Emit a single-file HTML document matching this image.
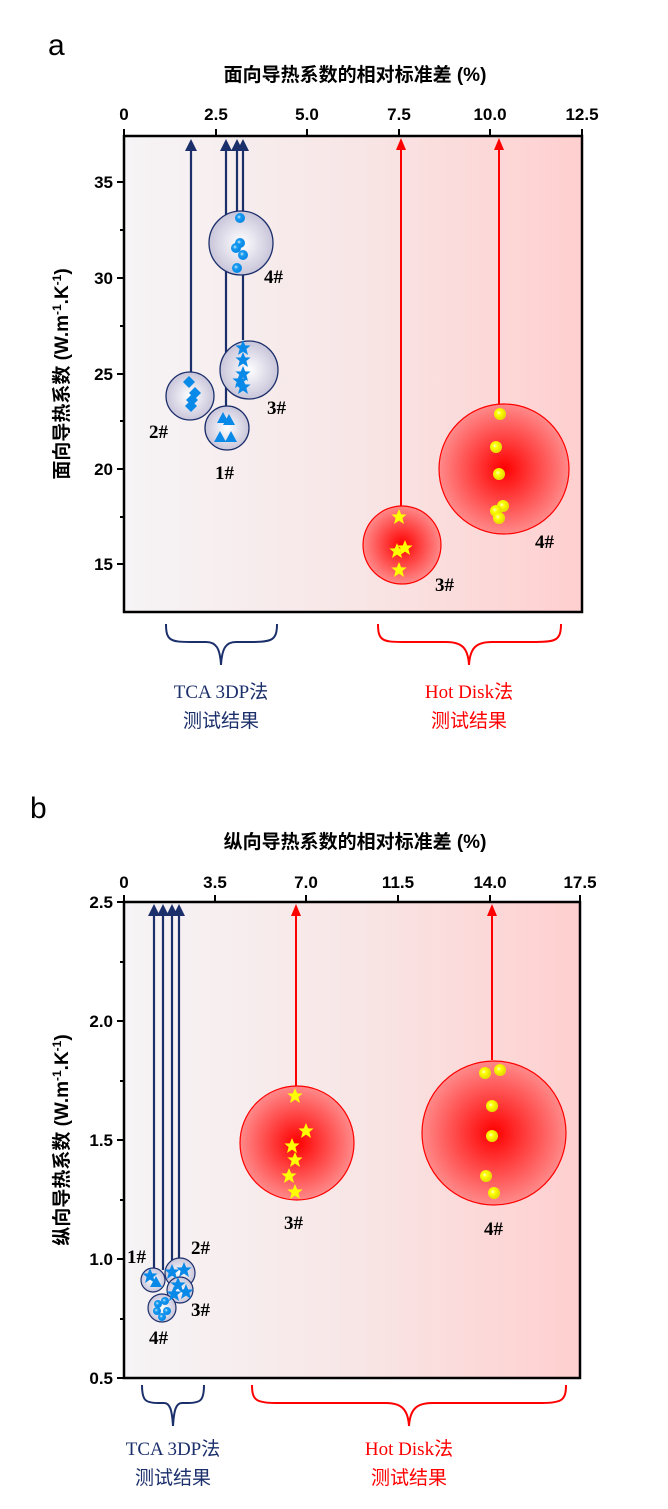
<!DOCTYPE html>
<html><head><meta charset="utf-8"><style>
html,body{margin:0;padding:0;background:#fff;}
svg{display:block;}
.t{font-family:"Liberation Serif","Noto Serif CJK SC",serif;font-weight:bold;fill:#000;}
.s{font-family:"Liberation Sans",sans-serif;font-weight:bold;fill:#000;}
.c{font-family:"Liberation Sans","Noto Sans CJK SC",sans-serif;}
</style></head><body>
<svg width="668" height="1509" viewBox="0 0 668 1509" xmlns="http://www.w3.org/2000/svg">
<defs>
<linearGradient id="bg" x1="0" x2="1" y1="0" y2="0"><stop offset="0" stop-color="#f6f4f6"/><stop offset="0.5" stop-color="#f8e6e6"/><stop offset="1" stop-color="#ffcfcf"/></linearGradient>
<radialGradient id="bl"><stop offset="0" stop-color="#ffffff"/><stop offset="1" stop-color="#c9c5da"/></radialGradient>
<radialGradient id="rd"><stop offset="0" stop-color="#ff0000"/><stop offset="1" stop-color="#ff8a8a"/></radialGradient>
<radialGradient id="yb" cx="0.4" cy="0.4"><stop offset="0" stop-color="#ffffcc"/><stop offset="0.4" stop-color="#ffff00"/><stop offset="1" stop-color="#e8e000"/></radialGradient>
<radialGradient id="bb" cx="0.4" cy="0.4"><stop offset="0" stop-color="#d0f0ff"/><stop offset="0.4" stop-color="#1a9cf0"/><stop offset="1" stop-color="#0a8ae8"/></radialGradient>
<polygon id="st" points="0,-8 2.2,-2.6 7.6,-2.5 3.4,1 5,7 0,3.6 -5,7 -3.4,1 -7.6,-2.5 -2.2,-2.6"/>
<polygon id="tr" points="0,-6 6,5 -6,5"/>
<polygon id="dm" points="0,-6 6,0 0,6 -6,0"/>
<polygon id="ah" points="0,0 6,12 -6,12"/>
<polygon id="ahr" points="0,0 5,12 -5,12"/>
</defs>

<!-- ===== Panel a ===== -->
<text x="48" y="55" class="c" font-size="30">a</text>
<text x="355" y="81" class="c" font-weight="bold" font-size="19" text-anchor="middle">面向导热系数的相对标准差 (%)</text>
<g class="s" font-size="17" text-anchor="middle">
<text x="124" y="120">0</text><text x="216" y="120">2.5</text><text x="307" y="120">5.0</text><text x="399" y="120">7.5</text><text x="490" y="120">10.0</text><text x="582" y="120">12.5</text>
</g>
<rect x="124" y="136" width="458" height="476" fill="url(#bg)"/>
<g stroke="#000" stroke-width="2">
<line x1="124" y1="136" x2="124" y2="129"/><line x1="216" y1="136" x2="216" y2="129"/><line x1="307" y1="136" x2="307" y2="129"/><line x1="399" y1="136" x2="399" y2="129"/><line x1="490" y1="136" x2="490" y2="129"/><line x1="582" y1="136" x2="582" y2="129"/>
<line x1="124" y1="182" x2="117" y2="182"/><line x1="124" y1="278" x2="117" y2="278"/><line x1="124" y1="374" x2="117" y2="374"/><line x1="124" y1="469" x2="117" y2="469"/><line x1="124" y1="564" x2="117" y2="564"/>
<line x1="124" y1="230" x2="120" y2="230"/><line x1="124" y1="326" x2="120" y2="326"/><line x1="124" y1="421" x2="120" y2="421"/><line x1="124" y1="517" x2="120" y2="517"/>
</g>
<g class="s" font-size="17" text-anchor="end">
<text x="113" y="188">35</text><text x="113" y="284">30</text><text x="113" y="380">25</text><text x="113" y="475">20</text><text x="113" y="570">15</text>
</g>
<text transform="translate(68,374) rotate(-90)" class="c" font-size="19" text-anchor="middle" font-weight="bold">面向导热系数 (W.m<tspan font-size="12" dy="-7">-1</tspan><tspan dy="7">.K</tspan><tspan font-size="12" dy="-7">-1</tspan><tspan dy="7">)</tspan></text>

<g stroke="#1b2f6b" stroke-width="2.2" fill="none">
<line x1="191" y1="372" x2="191" y2="150"/>
<line x1="226" y1="406" x2="226" y2="150"/>
<line x1="243" y1="340" x2="243" y2="150"/>
<line x1="237" y1="211" x2="237" y2="150"/>
</g>
<g fill="#1b2f6b">
<use href="#ah" x="191" y="139"/><use href="#ah" x="226" y="139"/><use href="#ah" x="237" y="139"/><use href="#ah" x="243" y="139"/>
</g>
<g stroke="#1b2f6b" stroke-width="1.3" fill="url(#bl)">
<circle cx="190" cy="396" r="24"/>
<circle cx="227" cy="428" r="22"/>
<circle cx="249" cy="370" r="29"/>
<circle cx="241" cy="243" r="32"/>
</g>
<g fill="#0a8ae8">
<use href="#dm" x="189" y="382"/><use href="#dm" x="195" y="393"/><use href="#dm" x="192" y="400"/><use href="#dm" x="191" y="406"/>
<use href="#tr" x="223" y="418"/><use href="#tr" x="229" y="420"/><use href="#tr" x="220" y="437"/><use href="#tr" x="231" y="437"/>
<use href="#st" x="243" y="348"/><use href="#st" x="243" y="360"/><use href="#st" x="243" y="374"/><use href="#st" x="240" y="381"/><use href="#st" x="243" y="387"/>
</g>
<g fill="url(#bb)">
<circle cx="240" cy="218" r="5"/><circle cx="240" cy="243" r="5"/><circle cx="236" cy="248" r="5"/><circle cx="243" cy="255" r="5"/><circle cx="237" cy="268" r="5"/>
</g>
<g class="t" font-size="19">
<text x="264" y="283">4#</text><text x="267" y="414">3#</text><text x="149" y="438">2#</text><text x="215" y="479">1#</text>
</g>

<g stroke="#ff0000" stroke-width="2">
<line x1="401" y1="506" x2="401" y2="148"/><line x1="499" y1="405" x2="499" y2="148"/>
</g>
<g fill="#ff0000"><use href="#ahr" x="401" y="138"/><use href="#ahr" x="499" y="138"/></g>
<circle cx="402" cy="545" r="39" fill="url(#rd)" stroke="#ff0000" stroke-width="1.2"/>
<circle cx="504" cy="469" r="65" fill="url(#rd)" stroke="#ff0000" stroke-width="1.2"/>
<g fill="#ffff00">
<use href="#st" x="399" y="517"/><use href="#st" x="397" y="551"/><use href="#st" x="405" y="548"/><use href="#st" x="399" y="570"/>
</g>
<g fill="url(#yb)">
<circle cx="500" cy="414" r="6"/><circle cx="496" cy="447" r="6"/><circle cx="499" cy="474" r="6"/><circle cx="503" cy="506" r="6"/><circle cx="496" cy="511" r="6"/><circle cx="499" cy="518" r="6"/>
</g>
<g class="t" font-size="19"><text x="535" y="548">4#</text><text x="435" y="591">3#</text></g>
<rect x="124" y="136" width="458" height="476" fill="none" stroke="#000" stroke-width="2.5"/>

<path d="M166,624 C166,640 170,642 190,642 L206,642 C216,642 220,648 221,665 C222,648 226,642 236,642 L252,642 C272,642 277,640 277,624" fill="none" stroke="#1b2f6b" stroke-width="2"/>
<path d="M378,624 C378,640 382,642 402,642 L446,642 C462,642 468,648 469,665 C470,648 476,642 492,642 L536,642 C556,642 561,640 561,624" fill="none" stroke="#ff0000" stroke-width="2"/>
<text x="221" y="698" font-size="19" fill="#1b2f6b" text-anchor="middle" style="font-family:'Liberation Serif','Noto Sans CJK SC',serif">TCA 3DP法</text>
<text x="221" y="727" class="c" font-size="19" fill="#1b2f6b" text-anchor="middle">测试结果</text>
<text x="469" y="698" font-size="19" fill="#ff0000" text-anchor="middle" style="font-family:'Liberation Serif','Noto Sans CJK SC',serif">Hot Disk法</text>
<text x="469" y="727" class="c" font-size="19" fill="#ff0000" text-anchor="middle">测试结果</text>

<!-- ===== Panel b ===== -->
<text x="30" y="818" class="c" font-size="30">b</text>
<text x="355" y="848" class="c" font-weight="bold" font-size="19" text-anchor="middle">纵向导热系数的相对标准差 (%)</text>
<g class="s" font-size="17" text-anchor="middle">
<text x="124" y="888">0</text><text x="215" y="888">3.5</text><text x="306" y="888">7.0</text><text x="398" y="888">11.5</text><text x="490" y="888">14.0</text><text x="580" y="888">17.5</text>
</g>
<rect x="124" y="902" width="456" height="476" fill="url(#bg)"/>
<g stroke="#000" stroke-width="2">
<line x1="124" y1="902" x2="124" y2="895"/><line x1="215" y1="902" x2="215" y2="895"/><line x1="306" y1="902" x2="306" y2="895"/><line x1="398" y1="902" x2="398" y2="895"/><line x1="490" y1="902" x2="490" y2="895"/><line x1="580" y1="902" x2="580" y2="895"/>
<line x1="124" y1="902" x2="117" y2="902"/><line x1="124" y1="1021" x2="117" y2="1021"/><line x1="124" y1="1140" x2="117" y2="1140"/><line x1="124" y1="1259" x2="117" y2="1259"/><line x1="124" y1="1378" x2="117" y2="1378"/>
<line x1="124" y1="962" x2="120" y2="962"/><line x1="124" y1="1081" x2="120" y2="1081"/><line x1="124" y1="1200" x2="120" y2="1200"/><line x1="124" y1="1319" x2="120" y2="1319"/>
</g>
<g class="s" font-size="17" text-anchor="end">
<text x="113" y="908">2.5</text><text x="113" y="1027">2.0</text><text x="113" y="1146">1.5</text><text x="113" y="1265">1.0</text><text x="113" y="1384">0.5</text>
</g>
<text transform="translate(68,1140) rotate(-90)" class="c" font-size="19" text-anchor="middle" font-weight="bold">纵向导热系数 (W.m<tspan font-size="12" dy="-7">-1</tspan><tspan dy="7">.K</tspan><tspan font-size="12" dy="-7">-1</tspan><tspan dy="7">)</tspan></text>

<g stroke="#1b2f6b" stroke-width="2.2" fill="none">
<line x1="154" y1="1270" x2="154" y2="915"/>
<line x1="163" y1="1270" x2="163" y2="915"/>
<line x1="172" y1="1265" x2="172" y2="915"/>
<line x1="179" y1="1262" x2="179" y2="915"/>
</g>
<g fill="#1b2f6b">
<use href="#ah" x="154" y="904"/><use href="#ah" x="163" y="904"/><use href="#ah" x="172" y="904"/><use href="#ah" x="179" y="904"/>
</g>
<g stroke="#1b2f6b" stroke-width="1.2" fill="url(#bl)">
<circle cx="180" cy="1273" r="15"/>
<circle cx="180" cy="1290" r="13"/>
<circle cx="153" cy="1280" r="12"/>
<circle cx="162" cy="1308" r="14"/>
</g>
<g fill="#0a8ae8">
<use href="#st" x="150" y="1276"/><use href="#tr" x="156" y="1282"/><use href="#st" x="172" y="1272"/><use href="#st" x="184" y="1270"/><use href="#st" x="178" y="1285"/><use href="#st" x="186" y="1292"/><use href="#st" x="174" y="1294"/>
</g>
<g fill="url(#bb)">
<circle cx="158" cy="1304" r="4"/><circle cx="165" cy="1301" r="4"/><circle cx="157" cy="1311" r="4"/><circle cx="167" cy="1311" r="4"/><circle cx="162" cy="1317" r="4"/>
</g>
<g class="t" font-size="19">
<text x="127" y="1263">1#</text><text x="191" y="1254">2#</text><text x="191" y="1316">3#</text><text x="149" y="1344">4#</text>
</g>

<g stroke="#ff0000" stroke-width="2">
<line x1="296" y1="1086" x2="296" y2="914"/><line x1="492" y1="1060" x2="492" y2="914"/>
</g>
<g fill="#ff0000"><use href="#ahr" x="296" y="904"/><use href="#ahr" x="492" y="904"/></g>
<circle cx="297" cy="1143" r="57" fill="url(#rd)" stroke="#ff0000" stroke-width="1.2"/>
<circle cx="494" cy="1133" r="72" fill="url(#rd)" stroke="#ff0000" stroke-width="1.2"/>
<g fill="#ffff00">
<use href="#st" x="295" y="1096"/><use href="#st" x="306" y="1131"/><use href="#st" x="292" y="1146"/><use href="#st" x="295" y="1160"/><use href="#st" x="289" y="1176"/><use href="#st" x="295" y="1192"/>
</g>
<g fill="url(#yb)">
<circle cx="485" cy="1073" r="6"/><circle cx="500" cy="1070" r="6"/><circle cx="492" cy="1106" r="6"/><circle cx="492" cy="1136" r="6"/><circle cx="486" cy="1176" r="6"/><circle cx="494" cy="1193" r="6"/>
</g>
<g class="t" font-size="19"><text x="284" y="1229">3#</text><text x="484" y="1235">4#</text></g>
<rect x="124" y="902" width="456" height="476" fill="none" stroke="#000" stroke-width="2.5"/>

<path d="M142,1385 C142,1400 145,1403 158,1403 L164,1403 C170,1403 172,1410 173,1426 C174,1410 176,1403 182,1403 L188,1403 C201,1403 204,1400 204,1385" fill="none" stroke="#1b2f6b" stroke-width="2"/>
<path d="M252,1385 C252,1400 256,1403 276,1403 L386,1403 C402,1403 408,1410 409,1426 C410,1410 416,1403 432,1403 L542,1403 C562,1403 566,1400 566,1385" fill="none" stroke="#ff0000" stroke-width="2"/>
<text x="173" y="1455" font-size="19" fill="#1b2f6b" text-anchor="middle" style="font-family:'Liberation Serif','Noto Sans CJK SC',serif">TCA 3DP法</text>
<text x="173" y="1484" class="c" font-size="19" fill="#1b2f6b" text-anchor="middle">测试结果</text>
<text x="409" y="1455" font-size="19" fill="#ff0000" text-anchor="middle" style="font-family:'Liberation Serif','Noto Sans CJK SC',serif">Hot Disk法</text>
<text x="409" y="1484" class="c" font-size="19" fill="#ff0000" text-anchor="middle">测试结果</text>
</svg>
</body></html>
